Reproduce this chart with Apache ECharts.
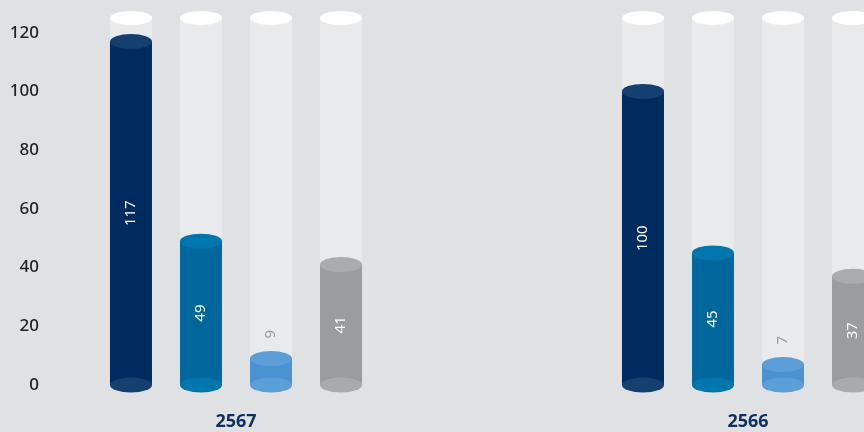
<!DOCTYPE html>
<html><head><meta charset="utf-8">
<script src="https://cdn.jsdelivr.net/npm/echarts@6/dist/echarts.min.js"></script>
<style>html,body{margin:0;padding:0;background:#e0e1e3;}#c{width:864px;height:432px;}</style>
</head><body><div id="c"></div>
<script>
const categories = ['2567', '2566'];
const seriesNavy = [117, 100];
const seriesBlue = [49, 45];
const seriesLight = [9, 7];
const seriesGray = [41, 37];
const yTicks = [0, 20, 40, 60, 80, 100, 120];
const tubeTop = 125;

const FONT = '"Noto Sans", "Open Sans", sans-serif';
const BW = 42;
const groups = [
  {data: seriesNavy, body: '#002b5e', top: '#143f6f', bottom: '#143f6f', dx: -105},
  {data: seriesBlue, body: '#00679c', top: '#0076ae', bottom: '#0076ae', dx: -35},
  {data: seriesLight, body: '#4b92d2', top: '#5c9fd8', bottom: '#5a9fd7', dx: 35},
  {data: seriesGray, body: '#9b9ca0', top: '#aaabae', bottom: '#a9aaad', dx: 105}
];

const series = [];
groups.forEach((g, i) => {
  series.push({
    type: 'bar', barWidth: BW, barGap: '66.7%', z: 2,
    showBackground: true, backgroundStyle: {color: '#e9eaec'},
    itemStyle: {color: g.body},
    data: g.data.map(v => v < 15 ? {
      value: v,
      label: {show: true, position: 'top', distance: 20, rotate: 90, align: 'left', verticalAlign: 'middle',
              color: '#9a9a9c', fontSize: 15, fontFamily: FONT}
    } : {value: v}),
    label: {show: true, position: 'inside', rotate: 90, color: '#ffffff', fontSize: 15, fontFamily: FONT}
  });
});
groups.forEach(g => {
  series.push({
    type: 'pictorialBar', symbol: 'circle', symbolSize: [BW, 15], symbolPosition: 'end',
    symbolOffset: [g.dx, '-50%'], z: 4, itemStyle: {color: g.top}, data: g.data, silent: true
  });
  series.push({
    type: 'pictorialBar', symbol: 'circle', symbolSize: [BW, 15], symbolPosition: 'start',
    symbolOffset: [g.dx, '50%'], z: 3, itemStyle: {color: g.bottom}, data: g.data, silent: true
  });
  series.push({
    type: 'pictorialBar', symbol: 'circle', symbolSize: [BW, 14], symbolPosition: 'end',
    symbolOffset: [g.dx, '-50%'], z: 3, itemStyle: {color: '#ffffff'},
    data: categories.map(() => tubeTop), silent: true
  });
});

const chart = echarts.init(document.getElementById('c'), null, {renderer: 'canvas'});
chart.setOption({
  backgroundColor: '#e0e1e3',
  animation: false,
  grid: {left: -20, right: -140, top: 18, bottom: 47, containLabel: false, outerBoundsMode: 'none'},
  xAxis: {
    type: 'category', data: categories,
    axisLine: {show: false}, axisTick: {show: false},
    axisLabel: {margin: 28, color: '#0e2f5f', fontSize: 18, fontWeight: 'bold', fontFamily: FONT}
  },
  yAxis: {
    type: 'value', min: 0, max: tubeTop, interval: 20, offset: -67,
    axisLine: {show: false}, axisTick: {show: false}, splitLine: {show: false},
    axisLabel: {showMaxLabel: false, color: '#222222', fontSize: 17, fontWeight: 500, fontFamily: FONT, margin: 8,
      formatter: v => yTicks.indexOf(v) >= 0 ? String(v) : ''}
  },
  series: series
});
</script></body></html>
